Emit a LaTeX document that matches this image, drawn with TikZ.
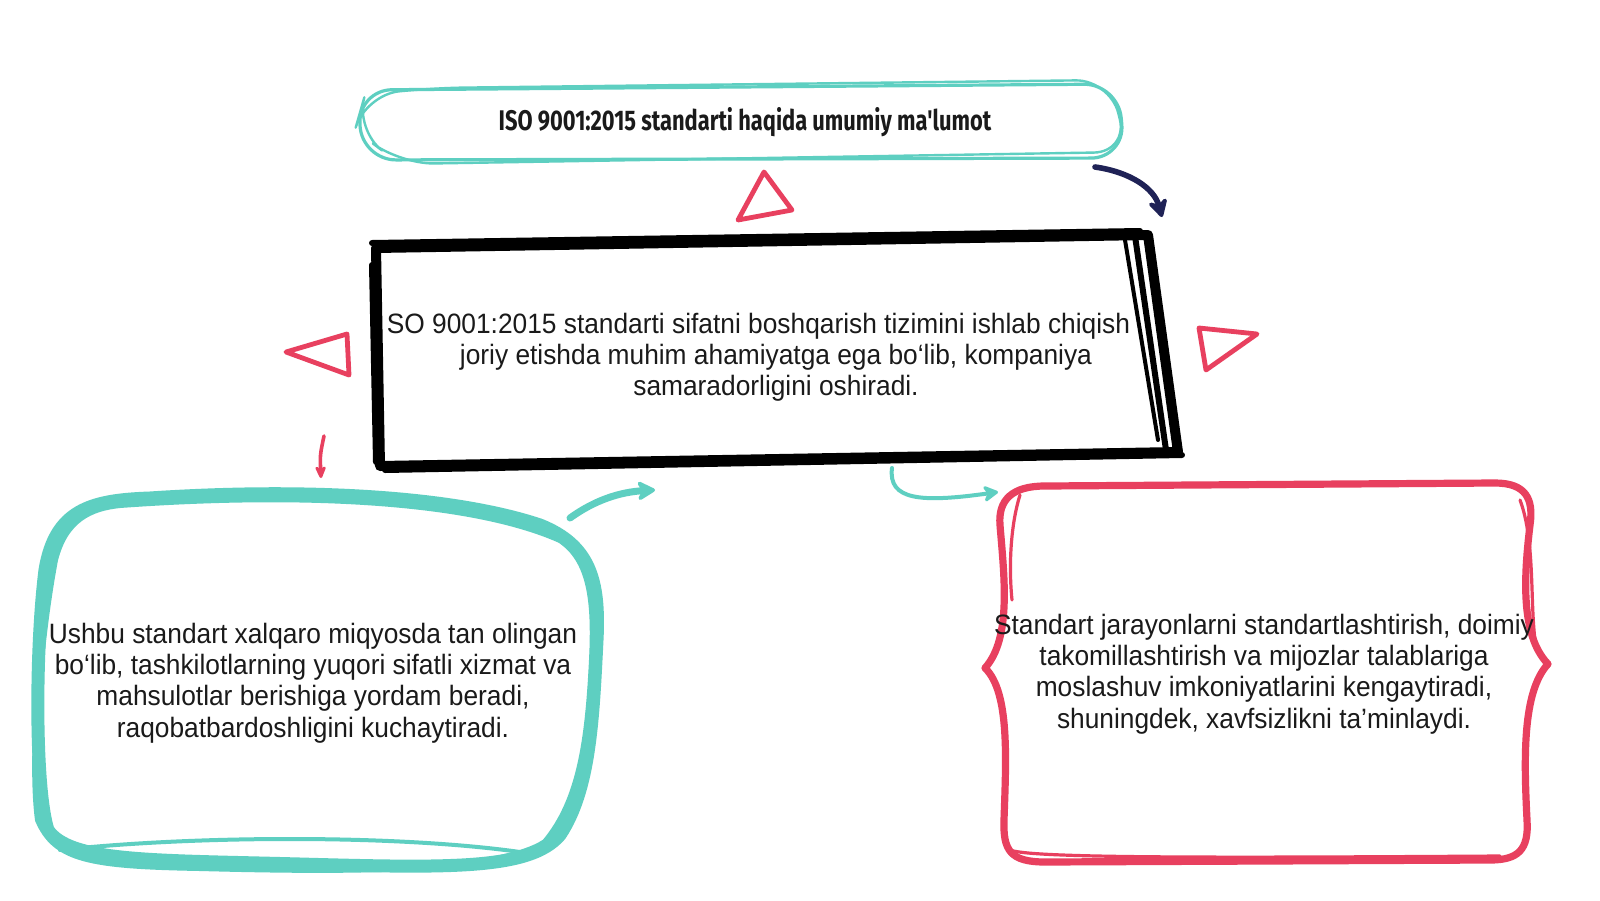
\documentclass[tikz,border=0pt]{standalone}
\usepackage{fontspec}
\setmainfont[FakeStretch=0.94]{Liberation Sans}
\newfontfamily\titlefont[FakeStretch=0.77]{Fira Sans}
\usetikzlibrary{arrows.meta}
\definecolor{tealc}{HTML}{5ECFC1}
\definecolor{redc}{HTML}{E8405F}
\definecolor{navyc}{HTML}{1F2256}
\definecolor{inkc}{HTML}{1A1A1A}
\tikzset{
  bodytext/.style={text=inkc, align=center, font=\fontsize{14}{15.6}\selectfont},
  tealstroke/.style={draw=tealc, line cap=round, line join=round},
  redstroke/.style={draw=redc, line cap=round, line join=round},
  inkstroke/.style={draw=black, line cap=round, line join=round},
  tri/.style={draw=redc, line width=2.4pt, line join=round},
}
\begin{document}
\begin{tikzpicture}[x=0.5pt,y=-0.5pt]
\useasboundingbox[fill=white] (0,0) rectangle (1600,900);

% ---------- title box ----------
\draw[tealstroke, line width=1.6pt, rounded corners=17pt] (358,90) -- (1118,84) -- (1125,158) -- (362,160) -- cycle;
\draw[tealstroke, line width=1.2pt, rounded corners=17pt] (430,88) -- (1110,80) -- (1128,152) -- (400,164) -- (355,130) -- (365,95) -- cycle;
\node[font=\titlefont\bfseries\fontsize{14.2}{17}\selectfont, text=inkc] (title) at (745,122) {ISO 9001:2015 standarti haqida umumiy ma'lumot};

% navy arrow
\coordinate (n1) at (1095,167);
\coordinate (n2) at (1162,217);
\draw[navyc, line width=2.8pt, line cap=round, -{Stealth[length=11pt,width=12pt,round]}] (n1) .. controls (1130,172) and (1154,188) .. (n2);

% red triangles
\draw[tri] (738,220) -- (764,172) -- (792,210) -- cycle;
\draw[tri] (286,352) -- (347,334) -- (349,375) -- cycle;
\draw[tri] (1199,328) -- (1257,334) -- (1206,370) -- cycle;

% ---------- main box ----------
\node[bodytext] (main) at (776,357) {SO 9001:2015 standarti sifatni boshqarish tizimini ishlab chiqish\phantom{ va}\\joriy etishda muhim ahamiyatga ega bo‘lib, kompaniya\\samaradorligini oshiradi.};
\draw[inkstroke, line width=5pt] (376,248) -- (1148,235) -- (1178,452) -- (380,466) -- cycle;
\draw[inkstroke, line width=3pt] (372,243) -- (1140,231) (1135,236) -- (1166,450) (1182,455) -- (385,470) (372,265) -- (376,462);
\draw[inkstroke, line width=2pt] (1125,240) -- (1158,440);

% small red arrow
\coordinate (r1) at (324,436);
\coordinate (r2) at (321,478);
\draw[redc, line width=1.8pt, line cap=round, -{Stealth[length=8pt,width=7pt,round]}] (r1) .. controls (320,455) .. (r2);

% teal arrow up-right
\coordinate (t1) at (570,518);
\coordinate (t2) at (655,490);
\draw[tealc, line width=3.5pt, line cap=round, -{Stealth[length=11pt,width=12pt,round]}] (t1) .. controls (595,500) and (620,492) .. (t2);

% teal hook arrow
\coordinate (h1) at (892,468);
\coordinate (h2) at (998,492);
\draw[tealc, line width=2pt, line cap=round, -{Stealth[length=9pt,width=10pt,round]}] (h1) .. controls (888,500) and (920,503) .. (h2);

% ---------- teal rounded box ----------
\draw[tealstroke, line width=6.5pt] (150,498) .. controls (300,488) and (450,495) .. (540,525)
  .. controls (590,545) and (600,580) .. (597,640)
  .. controls (593,720) and (590,790) .. (560,835)
  .. controls (530,870) and (450,868) .. (300,864)
  .. controls (150,860) and (70,862) .. (48,830)
  .. controls (35,790) and (35,650) .. (45,570)
  .. controls (55,510) and (90,500) .. (150,498);
\draw[tealstroke, line width=3pt] (120,505) .. controls (300,492) and (470,500) .. (560,540)
  .. controls (590,560) and (595,600) .. (592,660)
  .. controls (588,740) and (580,800) .. (545,842)
  .. controls (500,872) and (350,872) .. (200,868)
  .. controls (90,866) and (55,860) .. (38,820)
  .. controls (30,760) and (40,640) .. (55,560)
  .. controls (65,520) and (90,508) .. (120,505);
\draw[tealstroke, line width=2pt] (60,850) .. controls (200,835) and (400,835) .. (520,852);
\node[bodytext] (left) at (313,683) {Ushbu standart xalqaro miqyosda tan olingan\\bo‘lib, tashkilotlarning yuqori sifatli xizmat va\\mahsulotlar berishiga yordam beradi,\\raqobatbardoshligini kuchaytiradi.};

% ---------- red brace box ----------
\draw[redstroke, line width=3.6pt] (1045,486) -- (1495,483)
  .. controls (1525,483) and (1534,498) .. (1530,525)
  .. controls (1524,575) and (1520,635) .. (1548,664)
  .. controls (1522,692) and (1524,760) .. (1527,820)
  .. controls (1529,850) and (1518,860) .. (1490,860)
  -- (1045,862)
  .. controls (1010,862) and (1003,850) .. (1004,820)
  .. controls (1006,760) and (1010,692) .. (985,668)
  .. controls (1012,638) and (1004,575) .. (1000,525)
  .. controls (998,500) and (1012,486) .. (1045,486);
\draw[redstroke, line width=1.6pt] (1020,495) .. controls (1012,520) and (1008,560) .. (1012,600)
  (1520,500) .. controls (1535,540) and (1530,600) .. (1535,640)
  (1010,850) .. controls (1030,858) and (1200,858) .. (1500,856);
\node[bodytext] (right) at (1264,674) {Standart jarayonlarni standartlashtirish, doimiy\\takomillashtirish va mijozlar talablariga\\moslashuv imkoniyatlarini kengaytiradi,\\shuningdek, xavfsizlikni ta’minlaydi.};
\end{tikzpicture}
\end{document}
